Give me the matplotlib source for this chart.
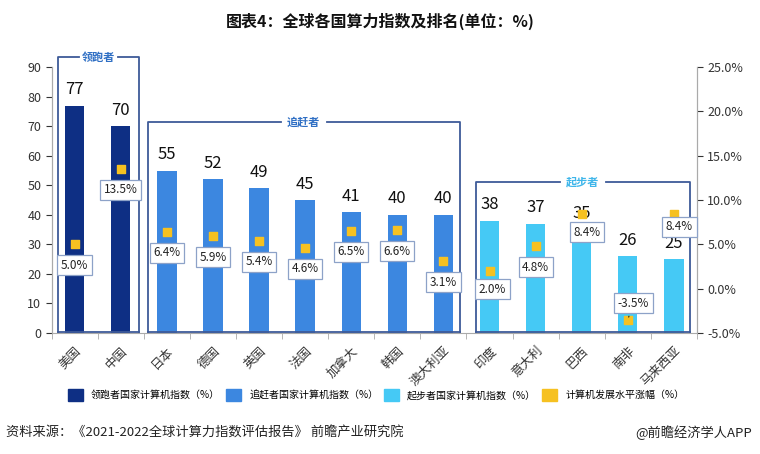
import numpy as np
import matplotlib.pyplot as plt
from matplotlib.patches import Patch
from matplotlib.lines import Line2D

plt.rcParams['font.family'] = ['Noto Sans CJK SC', 'DejaVu Sans']

# data
countries = ['美国', '中国', '日本', '德国', '英国', '法国', '加拿大', '韩国',
             '澳大利亚', '印度', '意大利', '巴西', '南非', '马来西亚']
index_values = [77, 70, 55, 52, 49, 45, 41, 40, 40, 38, 37, 35, 26, 25]
growth = [5.0, 13.5, 6.4, 5.9, 5.4, 4.6, 6.5, 6.6, 3.1, 2.0, 4.8, 8.4, -3.5, 8.4]
groups = ['领跑者'] * 2 + ['追赶者'] * 7 + ['起步者'] * 5
group_names = ['领跑者', '追赶者', '起步者']
legend_labels = ['领跑者国家计算机指数（%）', '追赶者国家计算机指数（%）',
                 '起步者国家计算机指数（%）', '计算机发展水平涨幅（%）']

colors = {'领跑者': '#0E2F84', '追赶者': '#3C87E0', '起步者': '#45C9F5'}
gold = '#F6C121'
box_col = '#3E5A98'
title_col = {'领跑者': '#2F6FC4', '追赶者': '#2F6FC4', '起步者': '#3FB6EA'}

fig = plt.figure(figsize=(7.6, 4.54), dpi=100)
ax = fig.add_axes([0.068, 0.2665, 0.849, 0.5855])
ax2 = ax.twinx()

x = np.arange(len(countries))
ax.bar(x, index_values, width=0.42, color=[colors[g] for g in groups], zorder=2)
for xi, v in zip(x, index_values):
    ax.text(xi, v + 2.5, str(v), ha='center', va='bottom', fontsize=12, color='#111111', zorder=5)

ax.set_xlim(-0.5, len(countries) - 0.5)
ax.set_ylim(0, 90)
ax.set_yticks(range(0, 91, 10))
ax2.set_ylim(-5, 25)
ax2.set_yticks(range(-5, 26, 5))
ax2.set_yticklabels([f'{v:.1f}%' for v in range(-5, 26, 5)])

ax.set_xticks(x)
ax.set_xticklabels(countries, rotation=45, ha='right', rotation_mode='anchor', fontsize=9, color='#333333')
ax.set_xticks(np.arange(-0.5, len(countries), 1), minor=True)
ax.tick_params(axis='x', which='major', length=0, pad=8)
ax.tick_params(axis='x', which='minor', length=4, color='#AAAAAA')
ax.tick_params(axis='y', labelsize=9, colors='#333333', length=4)
ax2.tick_params(axis='y', labelsize=9, colors='#333333', length=4)
for a in (ax, ax2):
    a.spines['top'].set_visible(False)
    for s in ('left', 'right', 'bottom'):
        a.spines[s].set_color('#AAAAAA')
ax2.spines['bottom'].set_visible(False)
for lab in ax.get_yticklabels() + ax2.get_yticklabels():
    lab.set_color('#333333')

# growth markers and boxed labels
ax2.scatter(x, growth, marker='s', s=40, color=gold, zorder=6)
offsets = [(0, -15)] * len(x)
offsets[9] = (2, -13)
offsets[11] = (4, -13)
offsets[12] = (4, 12)
offsets[13] = (4, -9)
for i, (xi, g) in enumerate(zip(x, growth)):
    dx, dy = offsets[i]
    ax2.annotate(f'{g:.1f}%', (xi, g), xytext=(dx, dy), textcoords='offset points',
                 ha='center', va='center', fontsize=8.5, color='#222222', zorder=7,
                 bbox=dict(boxstyle='square,pad=0.3', fc='white', ec='#8DA2C8', lw=0.9),
                 arrowprops=dict(arrowstyle='-', color='#222222', lw=0.8) if i == 12 else None)

# group boxes (data coords on left axis)
boxes = {'领跑者': (-0.37, 1.39, 93.4), '追赶者': (1.58, 8.36, 71.4), '起步者': (8.7, 13.35, 51.1)}
for name in group_names:
    x0, x1, top = boxes[name]
    mid = (x0 + x1) / 2
    gap = 0.5 if name != '领跑者' else 0.42
    kw = dict(color=box_col, lw=1.3, clip_on=False, zorder=4)
    ax.add_line(Line2D([x0, x0, mid - gap], [0.3, top, top], **kw))
    ax.add_line(Line2D([mid + gap, x1, x1], [top, top, 0.3], **kw))
    ax.add_line(Line2D([x0, x1], [0.3, 0.3], **kw))
    ax.text(mid, top, name, ha='center', va='center', fontsize=8, fontweight='bold',
            color=title_col[name], zorder=5, clip_on=False)

# legend
handles = [Patch(color=colors['领跑者']), Patch(color=colors['追赶者']),
           Patch(color=colors['起步者']), Patch(color=gold)]
fig.legend(handles, legend_labels, loc='center', bbox_to_anchor=(0.495, 0.13), ncol=4,
           frameon=False, fontsize=7.2, handlelength=1.5, handleheight=1.5,
           columnspacing=0.6, handletextpad=0.8)

fig.text(0.5, 0.952, '图表4：全球各国算力指数及排名(单位：%)', ha='center', va='center',
         fontsize=11.5, fontweight='bold', color='#111111')
fig.text(0.008, 0.046, '资料来源：《2021-2022全球计算力指数评估报告》 前瞻产业研究院', ha='left', va='center',
         fontsize=9.5, color='#222222')
fig.text(0.99, 0.046, '@前瞻经济学人APP', ha='right', va='center', fontsize=9.5, color='#222222')

fig.savefig('out.png', dpi=100)
